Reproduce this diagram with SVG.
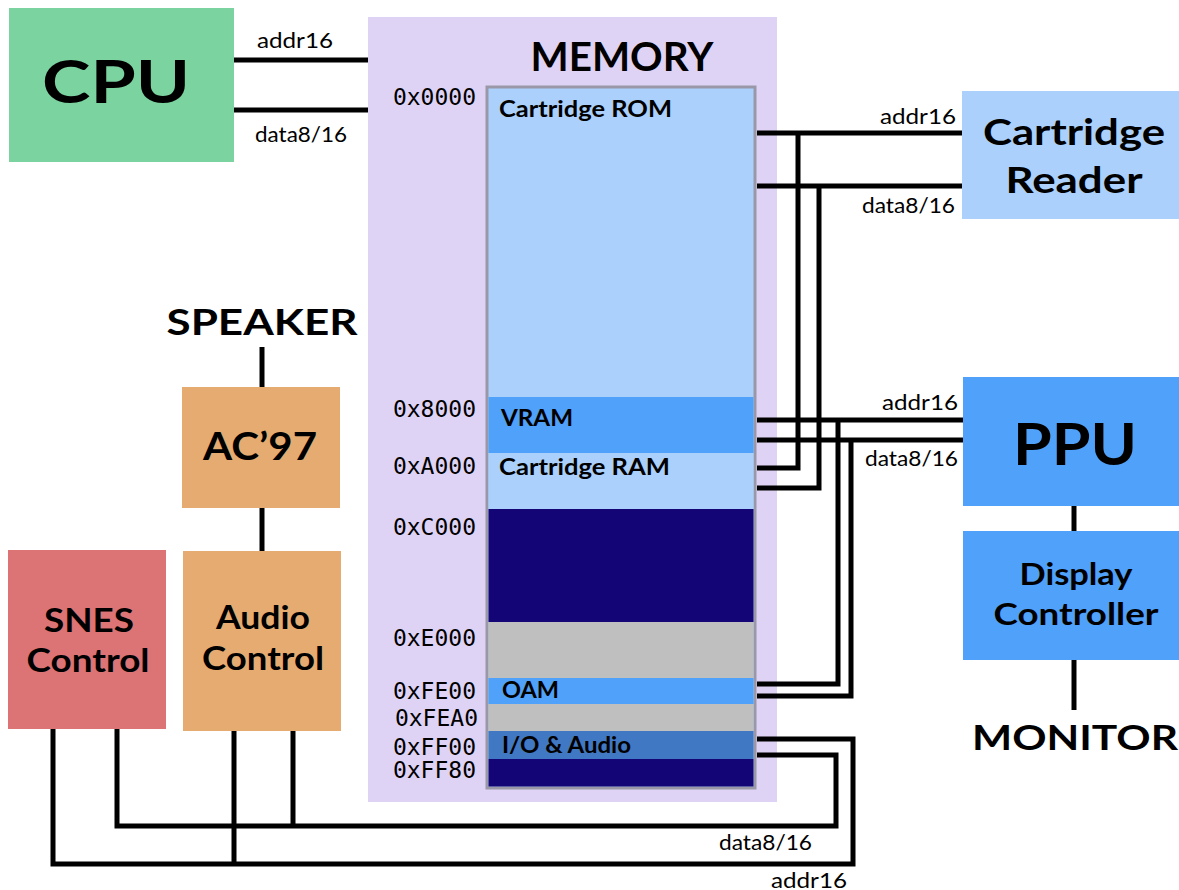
<svg xmlns="http://www.w3.org/2000/svg" width="1179" height="890" viewBox="0 0 1179 890">
<style>
.t{font-family:Lato,"Liberation Sans",sans-serif;font-weight:bold;fill:#000;text-anchor:middle}
.lbl{font-family:Lato,"Liberation Sans",sans-serif;font-size:21px;fill:#000}
.adr{font-family:"DejaVu Sans Mono","Liberation Mono",monospace;font-size:23px;fill:#000;text-anchor:end}
.reg{font-family:Lato,"Liberation Sans",sans-serif;font-weight:bold;font-size:22px;fill:#000}
.w{fill:none;stroke:#000;stroke-width:5;stroke-linejoin:miter}
</style>
<rect width="1179" height="890" fill="#fff"/>
<g id="memory">
<rect x="368" y="17" width="409" height="785" fill="#dfd3f5"/>
<text class="t" x="622" y="71" font-size="41" textLength="183" lengthAdjust="spacingAndGlyphs">MEMORY</text>
<rect x="487" y="87" width="268" height="701" fill="#aad0fb" stroke="#9a98a8" stroke-width="3"/>
<rect x="488.5" y="397" width="265" height="56" fill="#50a1fa"/>
<rect x="488.5" y="453" width="265" height="56" fill="#aad0fb"/>
<rect x="488.5" y="509" width="265" height="113" fill="#140577"/>
<rect x="488.5" y="622" width="265" height="56" fill="#bfbfbf"/>
<rect x="488.5" y="678" width="265" height="26" fill="#50a1fa"/>
<rect x="488.5" y="704" width="265" height="27" fill="#bfbfbf"/>
<rect x="488.5" y="731" width="265" height="28" fill="#4078c4"/>
<rect x="488.5" y="759" width="265" height="27.5" fill="#140577"/>
<text class="reg" x="499" y="117" textLength="173" lengthAdjust="spacingAndGlyphs">Cartridge ROM</text>
<text class="reg" x="501" y="426" textLength="72" lengthAdjust="spacingAndGlyphs">VRAM</text>
<text class="reg" x="499" y="475" textLength="171" lengthAdjust="spacingAndGlyphs">Cartridge RAM</text>
<text class="reg" x="502" y="698" textLength="57" lengthAdjust="spacingAndGlyphs">OAM</text>
<text class="reg" x="502" y="753" textLength="129" lengthAdjust="spacingAndGlyphs">I/O &amp; Audio</text>
<text class="adr" x="476" y="105">0x0000</text>
<text class="adr" x="476" y="417">0x8000</text>
<text class="adr" x="476" y="474">0xA000</text>
<text class="adr" x="476" y="535">0xC000</text>
<text class="adr" x="476" y="646">0xE000</text>
<text class="adr" x="476" y="699">0xFE00</text>
<text class="adr" x="478" y="726">0xFEA0</text>
<text class="adr" x="476" y="755">0xFF00</text>
<text class="adr" x="476" y="778">0xFF80</text>
</g>
<g id="cpu">
<rect x="9" y="8" width="225" height="154" fill="#7bd3a0"/>
<text class="t" x="116" y="103" font-size="60" textLength="148" lengthAdjust="spacingAndGlyphs">CPU</text>
</g>
<g id="cartridge-reader">
<rect x="962" y="91" width="217" height="128" fill="#aad0fb"/>
<text class="t" x="1074" y="145" font-size="36" textLength="182" lengthAdjust="spacingAndGlyphs">Cartridge</text>
<text class="t" x="1074" y="193" font-size="36" textLength="137" lengthAdjust="spacingAndGlyphs">Reader</text>
</g>
<g id="ppu">
<rect x="963" y="377" width="216" height="129" fill="#50a1fa"/>
<text class="t" x="1075" y="465" font-size="58" textLength="124" lengthAdjust="spacingAndGlyphs">PPU</text>
</g>
<g id="display-controller">
<rect x="963" y="531" width="216" height="129" fill="#50a1fa"/>
<text class="t" x="1076" y="585" font-size="31" textLength="113" lengthAdjust="spacingAndGlyphs">Display</text>
<text class="t" x="1076" y="625" font-size="31" textLength="165" lengthAdjust="spacingAndGlyphs">Controller</text>
</g>
<g id="monitor">
<text class="t" x="1075" y="750" font-size="35" textLength="206" lengthAdjust="spacingAndGlyphs">MONITOR</text>
</g>
<g id="speaker">
<text class="t" x="262" y="335" font-size="37" textLength="191" lengthAdjust="spacingAndGlyphs">SPEAKER</text>
</g>
<g id="ac97">
<rect x="182" y="387" width="158" height="121" fill="#e6ab70"/>
<text class="t" x="260" y="460" font-size="38" textLength="114" lengthAdjust="spacingAndGlyphs">AC’97</text>
</g>
<g id="audio-control">
<rect x="183" y="551" width="158" height="180" fill="#e6ab70"/>
<text class="t" x="263" y="629" font-size="32" textLength="94" lengthAdjust="spacingAndGlyphs">Audio</text>
<text class="t" x="263" y="670" font-size="32" textLength="122" lengthAdjust="spacingAndGlyphs">Control</text>
</g>
<g id="snes-control">
<rect x="8" y="550" width="158" height="179" fill="#dc7374"/>
<text class="t" x="89" y="632" font-size="32" textLength="90" lengthAdjust="spacingAndGlyphs">SNES</text>
<text class="t" x="88" y="672" font-size="32" textLength="123" lengthAdjust="spacingAndGlyphs">Control</text>
</g>
<g id="connectors">
<path class="w" d="M234 60H368"/>
<path class="w" d="M234 110H368"/>
<path class="w" d="M757 133H962"/>
<path class="w" d="M757 186H962"/>
<path class="w" d="M757 468H798V133"/>
<path class="w" d="M757 488H819V186"/>
<path class="w" d="M757 420H963"/>
<path class="w" d="M757 440H963"/>
<path class="w" d="M757 684H838V420"/>
<path class="w" d="M757 696H851V440"/>
<path class="w" d="M757 739H853V864H53V729"/>
<path class="w" d="M757 755H836V826H117V729"/>
<path class="w" d="M234 731V864"/>
<path class="w" d="M293 731V826"/>
<path class="w" d="M262 347V387"/>
<path class="w" d="M262 508V551"/>
<path class="w" d="M1074 506V531"/>
<path class="w" d="M1074 660V710"/>
<text class="lbl" x="257" y="48" textLength="76" lengthAdjust="spacingAndGlyphs">addr16</text>
<text class="lbl" x="255" y="142" textLength="92" lengthAdjust="spacingAndGlyphs">data8/16</text>
<text class="lbl" x="880" y="124" textLength="76" lengthAdjust="spacingAndGlyphs">addr16</text>
<text class="lbl" x="862" y="213" textLength="93" lengthAdjust="spacingAndGlyphs">data8/16</text>
<text class="lbl" x="882" y="410" textLength="76" lengthAdjust="spacingAndGlyphs">addr16</text>
<text class="lbl" x="865" y="466" textLength="93" lengthAdjust="spacingAndGlyphs">data8/16</text>
<text class="lbl" x="719" y="850" textLength="93" lengthAdjust="spacingAndGlyphs">data8/16</text>
<text class="lbl" x="771" y="888" textLength="76" lengthAdjust="spacingAndGlyphs">addr16</text>
</g>
</svg>
